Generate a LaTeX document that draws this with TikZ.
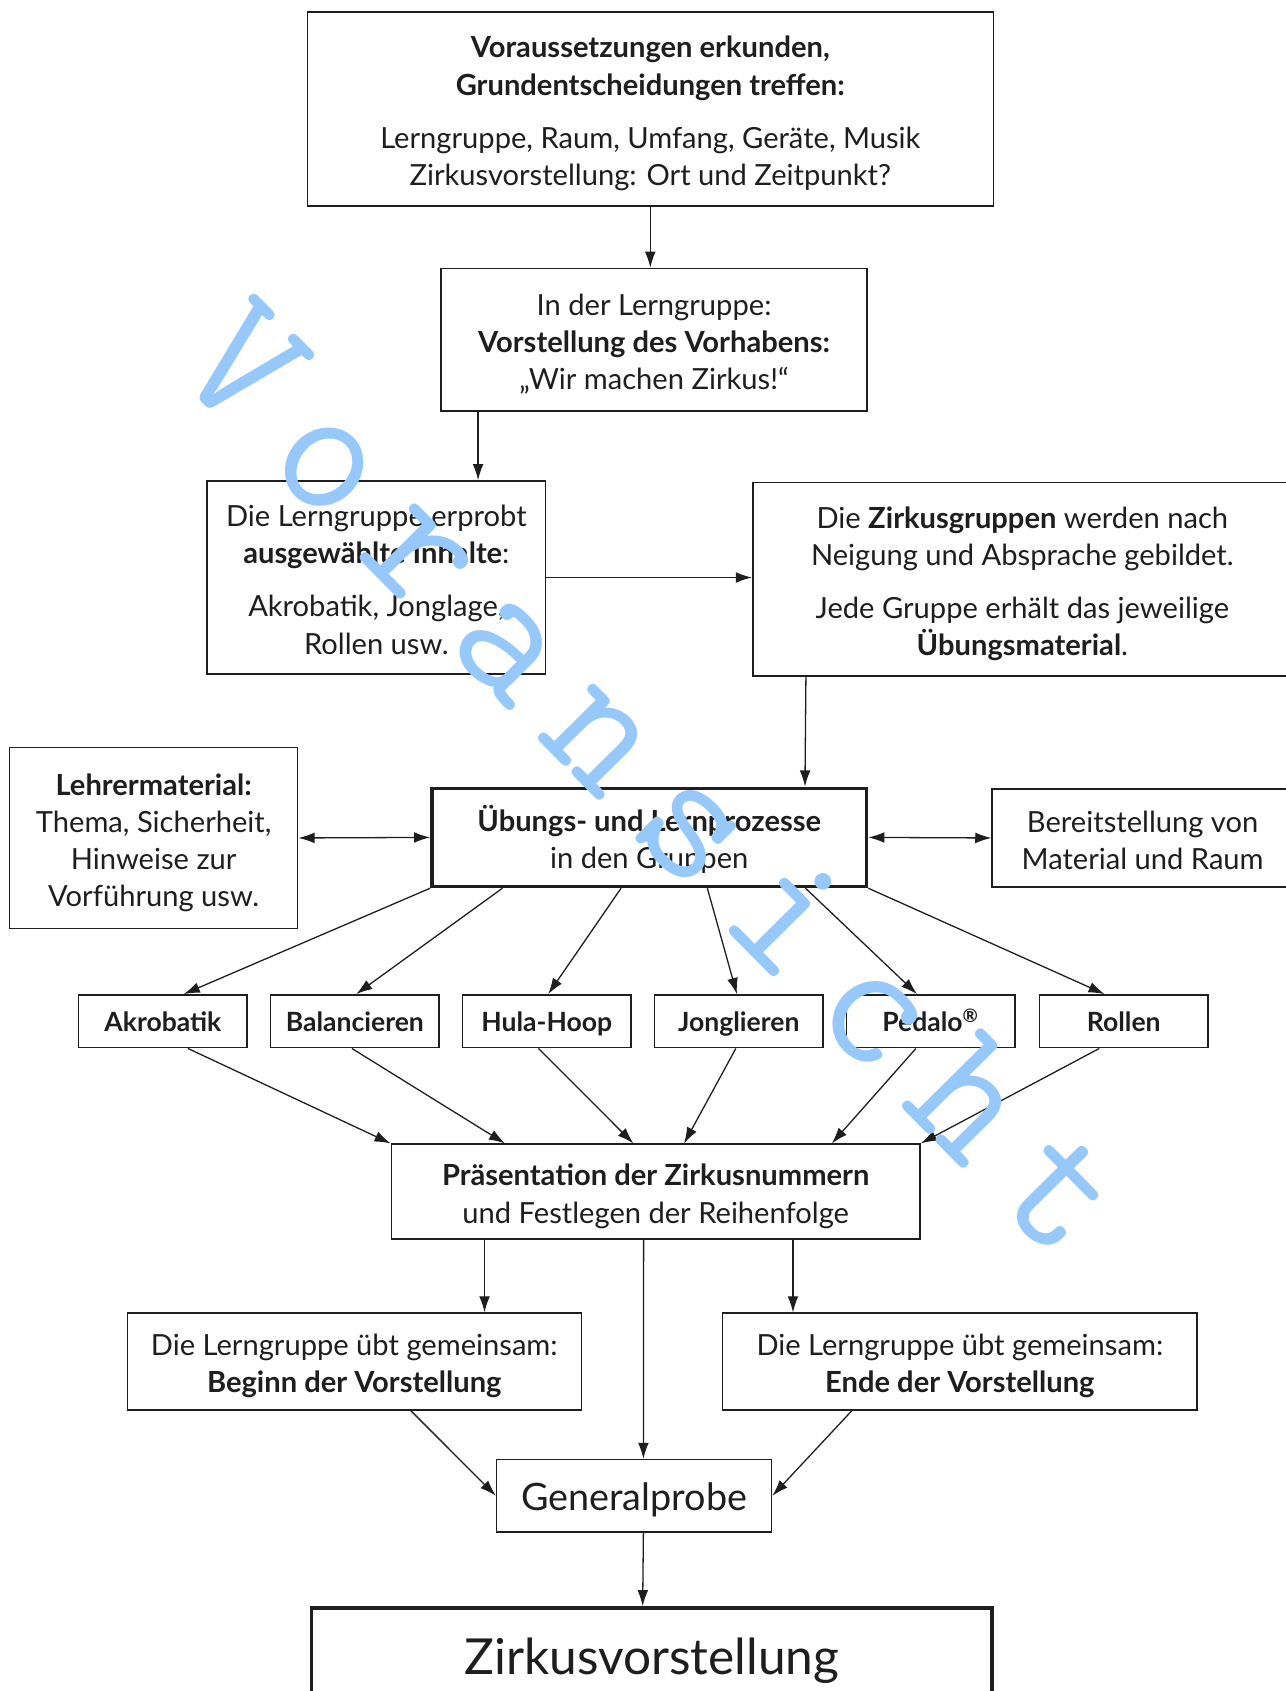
\documentclass[tikz,border=0pt]{standalone}
\usepackage{fontspec}
\setmainfont{Lato}
\usetikzlibrary{arrows.meta,positioning,calc}
\definecolor{wmblue}{RGB}{150,200,250}
\definecolor{inkblack}{RGB}{30,30,30}
% Zeilenblock, leicht abgesenkt
\newcommand{\boxlines}[2][2.5pt]{\raisebox{-#1}[\height][\depth]{\begin{tabular}{@{}c@{}}#2\end{tabular}}}
\newcommand{\wml}[1]{\makebox[59.9pt]{#1}}

\begin{document}
\begin{tikzpicture}[
    x=0.5pt, y=-0.5pt,
    box/.style={rectangle, draw=inkblack, line width=0.7pt, inner sep=0pt, text=inkblack, font=\fontsize{13.5}{17.2}\selectfont},
    thickbox/.style={box, line width=1.6pt},
    tag/.style={box, font=\bfseries\fontsize{12.3}{15}\selectfont, minimum width=78pt, minimum height=24.5pt},
    arrow/.style={-{Latex[length=7.5pt,width=5pt]}, line width=0.6pt, inkblack},
    twoway/.style={{Latex[length=7.5pt,width=5pt]}-{Latex[length=7.5pt,width=5pt]}, line width=0.6pt, inkblack},
    wmark/.style={text=wmblue, font=\ttfamily\fontsize{86}{86}\selectfont, inner sep=0pt}
]
\useasboundingbox (0,0) rectangle (1192,1568);

\node[box, minimum width=318pt, minimum height=90pt] (erkunden) at (603,101) {\boxlines{\textbf{Voraussetzungen erkunden,}\\\textbf{Grundentscheidungen treffen:}\\[7.5pt]Lerngruppe, Raum, Umfang, Geräte, Musik\\Zirkusvorstellung: Ort und Zeitpunkt?}};

\node[box, minimum width=197.5pt, minimum height=66pt] (vorhaben) at (606.5,315) {\boxlines{In der Lerngruppe:\\\textbf{Vorstellung des Vorhabens:}\\„Wir machen Zirkus!“}};

\node[box, minimum width=157pt, minimum height=89.5pt] (erprobt) at (349,535.5) {\boxlines{Die Lerngruppe erprobt\\\textbf{ausgewählte Inhalte}:\\[7.5pt]Akrobatik, Jonglage,\\Rollen usw.}};

\node[box, minimum width=250pt, minimum height=89.75pt] (gruppen) at (948,537) {\boxlines{Die \textbf{Zirkusgruppen} werden nach\\Neigung und Absprache gebildet.\\[7.5pt]Jede Gruppe erhält das jeweilige\\\textbf{Übungsmaterial}.}};

\node[box, minimum width=133.5pt, minimum height=83.75pt] (lehrer) at (142.5,777) {\boxlines{\textbf{Lehrermaterial:}\\Thema, Sicherheit,\\Hinweise zur\\Vorführung usw.}};

\node[thickbox, minimum width=201.5pt, minimum height=45.5pt] (uebung) at (602,776.5) {\boxlines{\textbf{Übungs- und Lernprozesse}\\in den Gruppen}};

\node[box, minimum width=139.5pt, minimum height=45.25pt] (bereit) at (1059.5,777) {\boxlines{Bereitstellung von\\Material und Raum}};

% Zirkusgruppen
\node[tag] (akro) at (151,947) {\boxlines[1.8pt]{Akrobatik}};
\node[tag] (balance) at (329,947) {\boxlines[1.8pt]{Balancieren}};
\node[tag] (hula) at (507,947) {\boxlines[1.8pt]{Hula-Hoop}};
\node[tag] (jongl) at (685,947) {\boxlines[1.8pt]{Jonglieren}};
\node[tag] (pedalo) at (863,947) {\boxlines[1.8pt]{Pedalo\textsuperscript{®}}};
\node[tag] (rollen) at (1042,947) {\boxlines[1.8pt]{Rollen}};

\node[box, minimum width=245pt, minimum height=44pt] (praes) at (608,1105) {\boxlines{\textbf{Präsentation der Zirkusnummern}\\und Festlegen der Reihenfolge}};

\node[box, minimum width=210.5pt, minimum height=44.85pt] (beginn) at (328.5,1262.5) {\boxlines{Die Lerngruppe übt gemeinsam:\\\textbf{Beginn der Vorstellung}}};

\node[box, minimum width=220pt, minimum height=44.85pt] (ende) at (890,1262.5) {\boxlines{Die Lerngruppe übt gemeinsam:\\\textbf{Ende der Vorstellung}}};

\node[box, minimum width=127.5pt, minimum height=33.5pt, font=\fontsize{17.5}{20}\selectfont] (probe) at (588,1387) {\boxlines[2.9pt]{Generalprobe}};

\node[thickbox, minimum width=315.5pt, minimum height=49.4pt, font=\fontsize{23}{26}\selectfont] (vorstellung) at (604.5,1540.4) {Zirkusvorstellung};

% Pfeile oben
\draw[arrow] (erkunden.south) -- (erkunden.south |- vorhaben.north);
\draw[arrow] ($(vorhaben.south west)+(35,0)$) -- ($(erprobt.north west)+(252,0)$);
\draw[arrow] (erprobt.east) -- (erprobt.east -| gruppen.west);
\draw[arrow] ($(gruppen.south west)+(50,0)$) -- ($(uebung.north west)+(347.5,0)$);
\draw[twoway] (lehrer.east) -- (uebung.west);
\draw[twoway] (uebung.east) -- (bereit.west);

% Verteilung auf die Gruppen
\draw[arrow] (uebung.south west) -- ($(akro.north west)+(98,0)$);
\draw[arrow] ($(uebung.south west)+(67,0)$) -- ($(balance.north west)+(80,0)$);
\draw[arrow] ($(uebung.south west)+(177,0)$) -- ($(hula.north west)+(80,0)$);
\draw[arrow] ($(uebung.south west)+(257,0)$) -- ($(jongl.north west)+(77,0)$);
\draw[arrow] ($(uebung.south west)+(348,0)$) -- ($(pedalo.north west)+(66,0)$);
\draw[arrow] (uebung.south east) -- ($(rollen.north west)+(61,0)$);

% Zusammenfuehrung
\draw[arrow] ($(akro.south west)+(102,0)$) -- (praes.north west);
\draw[arrow] ($(balance.south west)+(76,0)$) -- ($(praes.north west)+(106,0)$);
\draw[arrow] ($(hula.south west)+(71,0)$) -- ($(praes.north west)+(225,0)$);
\draw[arrow] ($(jongl.south west)+(76,0)$) -- ($(praes.north west)+(272,0)$);
\draw[arrow] ($(pedalo.south west)+(65,0)$) -- ($(praes.north west)+(409,0)$);
\draw[arrow] ($(rollen.south west)+(56,0)$) -- (praes.north east);

% Pfeile unten
\draw[arrow] ($(praes.south west)+(87,0)$) -- ($(beginn.north west)+(332,0)$);
\draw[arrow] ($(praes.south west)+(234.5,0)$) -- ($(probe.north west)+(136.8,0)$);
\draw[arrow] ($(praes.south west)+(373,0)$) -- ($(ende.north west)+(66,0)$);
\draw[arrow] ($(beginn.south west)+(263.6,0)$) -- (probe.west);
\draw[arrow] ($(ende.south west)+(120.6,0)$) -- (probe.east);
\draw[arrow] ($(probe.south west)+(136.8,0)$) -- ($(vorstellung.north west)+(308.5,0)$);

% Wasserzeichen
\node[wmark, rotate=-45.3] (wasserzeichen) at (606,721) {\wml{V}\wml{o}\wml{r}\wml{a}\wml{n}\wml{s}\wml{i}\wml{c}\wml{h}\wml{t}};

\end{tikzpicture}
\end{document}
